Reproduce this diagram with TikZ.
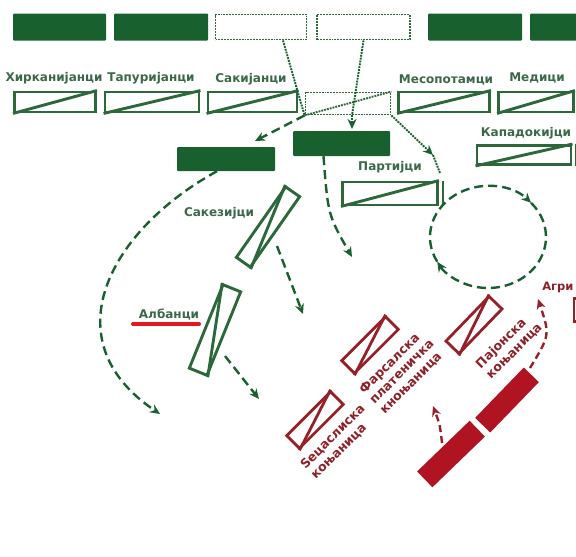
\documentclass[tikz,border=0pt]{standalone}
\usepackage{fontspec}
\setmainfont{DejaVu Sans}
\usetikzlibrary{arrows.meta}

\definecolor{armygreen}{RGB}{24,96,46}
\definecolor{linegreen}{RGB}{44,104,58}
\definecolor{textgreen}{RGB}{58,104,72}
\definecolor{armyred}{RGB}{176,20,34}
\definecolor{linered}{RGB}{150,32,40}
\definecolor{textred}{RGB}{140,34,40}
\definecolor{markred}{RGB}{228,24,32}

\begin{document}
\begin{tikzpicture}[x=1pt, y=-1pt, line join=miter, >={Stealth[length=10pt, width=9pt]},
    box/.style 2 args={minimum width=#1pt, minimum height=#2pt, inner sep=0pt},
    block/.style={fill=armygreen, rounded corners=1pt},
    unitline/.style={draw=linegreen, line width=2.9pt},
    unit/.style={unitline},
    ghost/.style={draw=linegreen, densely dotted, line width=1.9pt},
    redline/.style={draw=linered, line width=2.8pt},
    redblock/.style={fill=armyred},
    tribe/.style={text=textgreen, font=\bfseries\fontsize{12}{14}\selectfont},
    redtribe/.style={text=textred, font=\bfseries\fontsize{12.5}{14.5}\selectfont, align=left, rotate=45},
    move/.style={armygreen, line width=2.4pt, dash pattern=on 9pt off 5pt, ->},
    trail/.style={armygreen, line width=1.9pt, densely dotted},
    redmove/.style={linered, line width=2.4pt, dash pattern=on 7pt off 4pt, ->}]

    \useasboundingbox (0,0) rectangle (576,557);
    \clip (0,0) rectangle (576,557);

    \node[block, box={93}{27}] (t1) at (59.5,27) {};
    \node[block, box={94}{27}] (t2) at (161,27) {};
    \node[ghost, box={91}{25}] (g1) at (261,27) {};
    \node[ghost, box={93}{25}] (g2) at (363.5,27) {};
    \node[block, box={94}{27}] (t5) at (475,27) {};
    \node[block, box={60}{27}] (t6) at (560,27) {};

    \node[tribe] (hyrl) at (54,78) {Хирканијанци};
    \node[tribe] (tapl) at (151,78) {Тапуријанци};
    \node[tribe] (sakl) at (251,79) {Сакијанци};
    \node[tribe] (mesl) at (446,80) {Месопотамци};
    \node[tribe] (medl) at (537,78) {Медици};

    \node[unit, box={81}{20}] (hyr) at (55,102) {};
    \draw[unitline] (hyr.south west) -- (hyr.north east);
    \node[unit, box={94}{20}] (tap) at (152,102) {};
    \draw[unitline] (tap.south west) -- (tap.north east);
    \node[unit, box={89}{20}] (sak) at (252.5,102) {};
    \draw[unitline] (sak.south west) -- (sak.north east);
    \node[ghost, box={85}{22}] (gr) at (348,103.5) {};
    \draw[ghost] (gr.south west) -- (gr.north east);
    \node[unit, box={91}{20}] (mes) at (444,102) {};
    \draw[unitline] (mes.south west) -- (mes.north east);
    \node[unit, box={75}{20}] (med) at (536,102) {};
    \draw[unitline] (med.south west) -- (med.north east);

    \node[block, box={98}{24}] (lb) at (226,159) {};
    \node[block, box={97}{25}] (mb) at (341.5,143.5) {};

    \node[tribe] (parl) at (390,167) {Партијци};
    \node[unit, box={95}{23}] (par) at (390,193.5) {};
    \draw[unitline] (par.south west) -- (par.north east);
    \draw[unitline] ([xshift=4pt]par.north east) -- ([xshift=4pt]par.south east);

    \node[tribe] (kapl) at (526,133) {Кападокијци};
    \node[unit, box={94}{19}] (kap) at (524,155) {};
    \draw[unitline] (kap.south west) -- (kap.north east);
    \node[unit, box={30}{19}] (kap2) at (591,155) {};

    \node[tribe] (sakzl) at (219,213) {Сакезијци};
    \node[unit, box={86}{17}, rotate=55] (sakz) at (268,227) {};
    \draw[unitline] (sakz.south west) -- (sakz.north east);

    \node[tribe] (albl) at (169,315) {Албанци};
    \coordinate (ul1) at (133,324);
    \coordinate (ul2) at (199,324);
    \draw[markred, line width=4pt, line cap=round] (ul1) -- (ul2);
    \node[unit, box={90}{19}, rotate=68] (alb) at (215,330) {};
    \draw[unitline] (alb.south west) -- (alb.north east);

    \coordinate (a1) at (255,141);
    \coordinate (a2) at (352,129);
    \coordinate (a3) at (433,155);
    \coordinate (a3e) at (440,173);
    \draw[trail] ([xshift=22pt]g1.south) -- (gr.south west);
    \draw[move] (gr.south west) -- (a1);
    \draw[trail] (g2.south) -- ([xshift=4pt]gr.south);
    \draw[trail, ->] ([xshift=4pt]gr.south) -- (a2);
    \draw[trail, ->] (gr.south east) -- (a3);
    \draw[trail] (a3) -- (a3e);

    \coordinate (m1) at (160,414);
    \coordinate (m2) at (352,257);
    \coordinate (s1) at (277,246);
    \coordinate (m3) at (303,314);
    \coordinate (s2) at (225,356);
    \coordinate (m4) at (259,399);
    \draw[move] ([xshift=-9pt]lb.south) .. controls (110,230) and (50,340) .. (m1);
    \draw[move] ([xshift=-18pt]mb.south) .. controls (328,215) .. (m2);
    \draw[move] (s1) -- (m3);
    \draw[move] (s2) -- (m4);

    \coordinate (cc) at (488,237);
    \draw[move] (cc) ++(151:58 and 51) arc[start angle=151, end angle=318, x radius=58, y radius=51];
    \draw[move] (cc) ++(318:58 and 51) arc[start angle=318, end angle=511, x radius=58, y radius=51];

    \node[redline, box={62}{18}, rotate=45] (sec) at (315,420) {};
    \draw[redline] (sec.south west) -- (sec.north east);
    \node[redtribe] (secl) at (338,442) {Ѕецаслиска\\коњаница};

    \node[redline, box={62}{18}, rotate=45] (far) at (370,345) {};
    \draw[redline] (far.south west) -- (far.north east);
    \node[redtribe] (farl) at (402,372) {Фарсалска\\платеничка\\кноњаница};

    \node[redline, box={62}{18}, rotate=46] (paj) at (474,325) {};
    \draw[redline] (paj.south west) -- (paj.north east);
    \node[redtribe] (pajl) at (509,346) {Пајонска\\коњаница};

    \node[redblock, box={73}{22}, rotate=44] (bar1) at (451,454) {};
    \node[redblock, box={70}{21}, rotate=46] (bar2) at (507,400) {};

    \node[text=textred, font=\bfseries\fontsize{11.5}{13}\selectfont, anchor=east] (agrl) at (577,288) {Агри};
    \node[redline, box={30}{23}] (agr) at (589,310) {};

    \coordinate (r1s) at (442,443);
    \coordinate (r1) at (433,406);
    \coordinate (r2s) at (530,368);
    \coordinate (r2) at (538,299);
    \draw[redmove] (r1s) .. controls (440,425) .. (r1);
    \draw[redmove] (r2s) .. controls (550,335) .. (r2);
\end{tikzpicture}
\end{document}
